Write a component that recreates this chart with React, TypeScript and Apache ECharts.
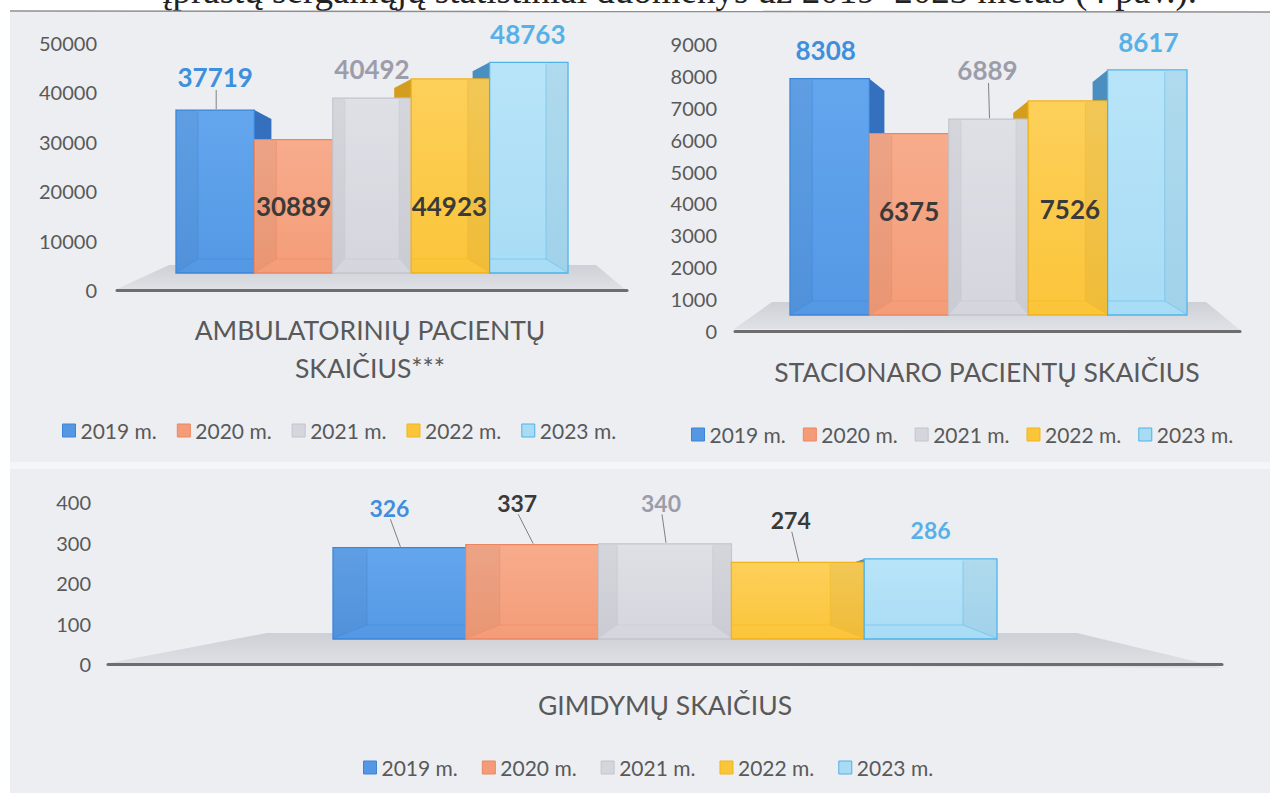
import React, { useEffect, useRef } from "react";
import * as echarts from "echarts";

// ---------- data ----------
const years = ["2019 m.", "2020 m.", "2021 m.", "2022 m.", "2023 m."];
const ambulatoryValues = [37719, 30889, 40492, 44923, 48763];
const inpatientValues = [8308, 6375, 6889, 7526, 8617];
const birthValues = [326, 337, 340, 274, 286];
const ambulatoryTicks = [0, 10000, 20000, 30000, 40000, 50000];
const inpatientTicks = [0, 1000, 2000, 3000, 4000, 5000, 6000, 7000, 8000, 9000];
const birthTicks = [0, 100, 200, 300, 400];
const chartTitles = ["AMBULATORINIŲ PACIENTŲ\nSKAIČIUS***", "STACIONARO PACIENTŲ SKAIČIUS", "GIMDYMŲ SKAIČIUS"];
const headerText = "įprastų sergamųjų statistiniai duomenys už 2019–2023 metus (4 pav.).";

// ---------- styles ----------
const palette = [
  { fill: "#5498e4", light: "#64a6ee", border: "#3b84d6", side: "#3470bd", label: "#3f8fdc" },
  { fill: "#f49c78", light: "#f7ac8c", border: "#ec8661", side: "#d77a55", label: "#3a3a3a" },
  { fill: "#d5d6dd", light: "#dfe0e6", border: "#c3c4cc", side: "#b0b1b8", label: "#9d9daa" },
  { fill: "#fbc53a", light: "#fdd05a", border: "#f1b31c", side: "#d39e1e", label: "#3a3a3a" },
  { fill: "#a8dcf5", light: "#b8e4f8", border: "#4fb2e8", side: "#4a8fbf", label: "#56b1e8" },
];

const panels = [
  {
    values: ambulatoryValues, ticks: ambulatoryTicks,
    axisGrid: { left: 117, top: 43, width: 510, height: 247 }, labelMargin: 20,
    barGrid: { left: 176, top: 57, width: 392, height: 216 },
    depth: [17, 9], labelFont: 26,
    labels: [
      { dx: 0, dy: -33, leader: true }, { dx: 0, dy: 66 }, { dx: 0, dy: -29 },
      { dx: -1, dy: 127 }, { dx: -1, dy: -28 },
    ],
    floor: [[169, 265], [596, 265], [627, 291], [117, 289]],
    title: { x: 370, y: 349 },
    legend: { left: 57, top: 415, gap: 20 },
  },
  {
    values: inpatientValues, ticks: inpatientTicks,
    axisGrid: { left: 735, top: 44, width: 505, height: 287 }, labelMargin: 18,
    barGrid: { left: 790, top: 59, width: 397, height: 256 },
    depth: [15, 12], labelFont: 26,
    labels: [
      { dx: -4, dy: -29 }, { dx: 0, dy: 77 }, { dx: -1, dy: -49, leader: true },
      { dx: 2, dy: 108 }, { dx: 1, dy: -28 },
    ],
    floor: [[772, 302], [1206, 302], [1240, 330], [734, 329]],
    title: { x: 987, y: 372 },
    legend: { left: 686, top: 419, gap: 17 },
  },
  {
    values: birthValues, ticks: birthTicks,
    axisGrid: { left: 108, top: 502, width: 1114, height: 162 }, labelMargin: 17,
    barGrid: { left: 333, top: 527, width: 664, height: 112 },
    depth: [12, 4], labelFont: 23,
    labels: [
      { dx: -10, dy: -40, leader: true }, { dx: -15, dy: -42, leader: true },
      { dx: -4, dy: -41, leader: true }, { dx: -7, dy: -42, leader: true }, { dx: 0, dy: -29 },
    ],
    floor: [[267, 633], [1077, 633], [1223, 668], [109, 663]],
    title: { x: 665, y: 705 },
    legend: { left: 358, top: 752, gap: 24 },
  },
];

const FONT = "Lato, 'Open Sans', sans-serif";

function makeRenderItem(panel: any, idx: number) {
  return (params: any, api: any) => {
    const v = api.value(1);
    const top = api.coord([idx, v]);
    const base = api.coord([idx, 0]);
    const w = api.size([1, 0])[0];
    const cx = top[0];
    const t = top[1];
    const b = base[1];
    const l = cx - w / 2;
    const r = cx + w / 2;
    const c = palette[idx];
    const [D, Dy] = panel.depth;
    const dir = idx < 2 ? 1 : idx > 2 ? -1 : 0;
    const children: any[] = [];
    if (dir !== 0) {
      const ex = dir > 0 ? r : l;
      children.push({
        type: "polygon", z2: 1,
        shape: { points: [[ex, t], [ex + dir * D, t + Dy], [ex + dir * D, b - 2], [ex, b]] },
        style: { fill: c.side },
      });
    }
    children.push({
      type: "rect", z2: 5,
      shape: { x: l, y: t, width: w, height: b - t },
      style: {
        fill: new echarts.graphic.LinearGradient(0, 0, 0, 1, [
          { offset: 0, color: c.light }, { offset: 1, color: c.fill },
        ]),
        stroke: c.border, lineWidth: 1.3,
      },
    });
    const off = Math.min(w * 0.28, 34);
    const offY = 14;
    const wall = "rgba(0,0,0,0.045)";
    const inner = { stroke: c.border, lineWidth: 1, opacity: 0.45, fill: null };
    if (dir > 0) {
      children.push({ type: "polygon", z2: 6, shape: { points: [[l + 1, t + 1], [l + off, t + 1], [l + off, b - offY], [l + 1, b - 1]] }, style: { fill: wall } });
      children.push({ type: "polyline", z2: 7, shape: { points: [[l + off, t + 2], [l + off, b - offY], [r - 1, b - offY]] }, style: inner });
      children.push({ type: "line", z2: 7, shape: { x1: l + 1, y1: b - 1, x2: l + off, y2: b - offY }, style: inner });
    } else if (dir < 0) {
      children.push({ type: "polygon", z2: 6, shape: { points: [[r - 1, t + 1], [r - off, t + 1], [r - off, b - offY], [r - 1, b - 1]] }, style: { fill: wall } });
      children.push({ type: "polyline", z2: 7, shape: { points: [[r - off, t + 2], [r - off, b - offY], [l + 1, b - offY]] }, style: inner });
      children.push({ type: "line", z2: 7, shape: { x1: r - 1, y1: b - 1, x2: r - off, y2: b - offY }, style: inner });
    } else {
      const o2 = off * 0.55;
      children.push({ type: "polygon", z2: 6, shape: { points: [[l + 1, t + 1], [l + o2, t + 1], [l + o2, b - offY], [l + 1, b - 1]] }, style: { fill: wall } });
      children.push({ type: "polygon", z2: 6, shape: { points: [[r - 1, t + 1], [r - o2, t + 1], [r - o2, b - offY], [r - 1, b - 1]] }, style: { fill: wall } });
      children.push({ type: "polyline", z2: 7, shape: { points: [[l + o2, t + 2], [l + o2, b - offY], [r - o2, b - offY], [r - o2, t + 2]] }, style: inner });
    }
    const lab = panel.labels[idx];
    const fs = panel.labelFont;
    const lx = cx + lab.dx;
    const ly = t + lab.dy;
    if (lab.leader) {
      children.push({
        type: "line", z2: 19,
        shape: { x1: lx + 1, y1: ly + fs * 0.5, x2: cx + 1, y2: t - 1 },
        style: { stroke: "#808080", lineWidth: 1 },
      });
    }
    children.push({
      type: "text", z2: 20, x: lx, y: ly,
      style: {
        text: String(v), fill: c.label, font: `bold ${fs}px ${FONT}`,
        align: "center", verticalAlign: "middle", textAlign: "center", textVerticalAlign: "middle",
      },
    });
    return { type: "group", children };
  };
}

function buildOption() {
  const grid: any[] = [];
  const xAxis: any[] = [];
  const yAxis: any[] = [];
  const series: any[] = [];
  const legend: any[] = [];
  const graphic: any[] = [
    { type: "rect", z: -10, shape: { x: 0, y: 0, width: 1270, height: 802 }, style: { fill: "#ffffff" } },
    { type: "rect", z: -9, shape: { x: 10, y: 12, width: 1260, height: 781 }, style: { fill: "#eceef2" } },
    { type: "rect", z: -8, shape: { x: 10, y: 462, width: 1260, height: 7 }, style: { fill: "#f5f6f8" } },
    {
      type: "text", z: -7, x: 1197, y: 9,
      style: {
        text: headerText, fill: "#222", font: "37px 'Liberation Serif', serif",
        align: "right", verticalAlign: "bottom", textAlign: "right", textVerticalAlign: "bottom",
      },
    },
    { type: "line", z: -6, shape: { x1: 10, y1: 11, x2: 1270, y2: 12 }, style: { stroke: "#8e8e8e", lineWidth: 1.5 } },
  ];

  panels.forEach((p, pi) => {
    const tickMax = p.ticks[p.ticks.length - 1];
    const tickStep = p.ticks[1] - p.ticks[0];
    const ag = 2 * pi;
    const bg = 2 * pi + 1;
    grid.push({ ...p.axisGrid, containLabel: false });
    grid.push({ ...p.barGrid, containLabel: false });
    xAxis.push({
      gridIndex: ag, type: "category", data: [""],
      axisLine: { show: true, lineStyle: { color: "#6d6d6d", width: 3 } },
      axisTick: { show: false }, axisLabel: { show: false }, splitLine: { show: false },
    });
    yAxis.push({
      gridIndex: ag, type: "value", min: p.ticks[0], max: tickMax, interval: tickStep,
      axisLine: { show: false }, axisTick: { show: false }, splitLine: { show: false },
      axisLabel: {
        margin: p.labelMargin, color: "#595959", fontSize: 20, fontFamily: FONT,
        formatter: (val: number) => String(val),
      },
    });
    xAxis.push({ gridIndex: bg, type: "category", data: years, show: false, boundaryGap: true });
    yAxis.push({ gridIndex: bg, type: "value", min: 0, max: tickMax, show: false });

    years.forEach((name, i) => {
      series.push({
        type: "custom", name, xAxisIndex: bg, yAxisIndex: bg,
        coordinateSystem: "cartesian2d",
        itemStyle: { color: palette[i].fill },
        data: [[i, p.values[i]]],
        encode: { x: 0, y: 1 },
        renderItem: makeRenderItem(p, i),
        silent: true,
      });
    });

    legend.push({
      left: p.legend.left, top: p.legend.top, orient: "horizontal",
      itemWidth: 13, itemHeight: 13, itemGap: p.legend.gap, selectedMode: false,
      textStyle: { color: "#595959", fontSize: 21, fontFamily: FONT, padding: [0, 0, 0, 0] },
      data: years.map((n, i) => ({
        name: n, icon: "rect",
        itemStyle: { color: palette[i].fill, borderColor: palette[i].border, borderWidth: 1 },
      })),
    });

    graphic.push({
      type: "polygon", z: -5,
      shape: { points: p.floor },
      style: {
        fill: new echarts.graphic.LinearGradient(0, 0, 0, 1, [
          { offset: 0, color: "#cdd0d6" }, { offset: 1, color: "#e0e2e7" },
        ]),
      },
    });
    graphic.push({
      type: "text", z: -4, x: p.title.x, y: p.title.y,
      style: {
        text: chartTitles[pi], fill: "#595959", font: `26.5px ${FONT}`, lineHeight: 38,
        align: "center", verticalAlign: "middle", textAlign: "center", textVerticalAlign: "middle",
      },
    });
  });

  return { animation: false, grid, xAxis, yAxis, series, legend, graphic };
}

export default function App() {
  const ref = useRef<HTMLDivElement>(null);
  useEffect(() => {
    if (!ref.current) return;
    const chart = echarts.init(ref.current, undefined, { renderer: "svg" });
    chart.setOption(buildOption() as any);
    return () => chart.dispose();
  }, []);
  return (
    <div
      ref={ref}
      style={{ position: "absolute", left: 0, top: 0, width: 1270, height: 802, background: "#fff" }}
    />
  );
}
